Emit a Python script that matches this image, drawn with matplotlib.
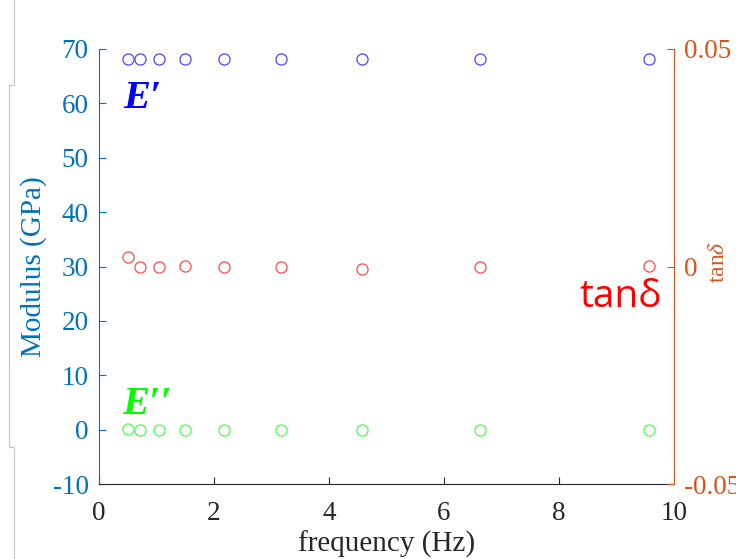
import matplotlib
matplotlib.use("Agg")
import matplotlib.pyplot as plt
from matplotlib.lines import Line2D

plt.rcParams['font.family'] = ['Liberation Serif', 'DejaVu Serif']
plt.rcParams['mathtext.fontset'] = 'stix'
plt.rcParams['axes.unicode_minus'] = False

# Dynamic mechanical analysis: frequency sweep
freq_hz = [0.50, 0.72, 1.04, 1.50, 2.18, 3.16, 4.57, 6.62, 9.56]
storage_modulus = [68.2, 68.2, 68.2, 68.2, 68.2, 68.2, 68.2, 68.2, 68.2]   # E' (GPa)
loss_modulus = [0.05, 0.02, 0.02, 0.02, 0.02, 0.02, 0.0, 0.02, 0.02]       # E'' (GPa)
tan_delta = [0.0022, 0.0000, 0.0000, 0.0002, 0.0000, 0.0000, -0.0005, 0.0000, 0.0001]

left_ticks = [-10, 0, 10, 20, 30, 40, 50, 60, 70]
right_ticks = [-0.05, 0, 0.05]
right_ticklabels = ['-0.05', '0', '0.05']
x_ticks = [0, 2, 4, 6, 8, 10]

LEFT_C = '#0072BD'
RIGHT_C = '#D95319'
AX_C = '#262626'

fig = plt.figure(figsize=(7.36, 5.59), dpi=100)
ax = fig.add_axes([99 / 736, 1 - 484 / 559, 575 / 736, 435 / 559])
ax2 = ax.twinx()

ms, mew = 8.0, 0.9
ax.plot(freq_hz, storage_modulus, 'o', mfc='none', mec='#4646ff', ms=ms, mew=mew, zorder=3)
ax.plot(freq_hz, loss_modulus, 'o', mfc='none', mec='#46ff46', ms=ms, mew=mew, zorder=3)
ax2.plot(freq_hz, tan_delta, 'o', mfc='none', mec='#ff4a4a', ms=ms, mew=mew, zorder=3)

ax.set_xlim(0, 10)
ax.set_ylim(-10, 70)
ax2.set_ylim(-0.05, 0.05)
ax.set_xticks(x_ticks)
ax.set_yticks(left_ticks)
ax2.set_yticks(right_ticks)
ax2.set_yticklabels(right_ticklabels)

for a in (ax, ax2):
    a.spines['top'].set_visible(False)
    a.set_facecolor('none')
ax.spines['right'].set_visible(False)
ax2.spines['left'].set_visible(False)
ax2.spines['bottom'].set_visible(False)
ax.spines['left'].set_color(LEFT_C)
ax.spines['bottom'].set_color(AX_C)
ax2.spines['right'].set_color(RIGHT_C)
for s in (ax.spines['left'], ax.spines['bottom'], ax2.spines['right']):
    s.set_linewidth(0.8)

ax.tick_params(axis='y', direction='in', length=5, width=0.8, colors=LEFT_C,
               labelsize=19.5, pad=7.5)
ax.tick_params(axis='x', direction='in', length=5, width=0.8, colors=AX_C,
               labelsize=19.5, pad=12)
ax2.tick_params(axis='y', direction='in', length=5, width=0.8, colors=RIGHT_C,
                labelsize=19.5, pad=7.5)

ax.set_xlabel('frequency (Hz)', fontsize=21, color=AX_C, labelpad=3.5)
ax.set_ylabel('Modulus (GPa)', fontsize=21, color=LEFT_C, labelpad=4)
ax2.set_ylabel(r'tan$\delta$', fontsize=17, color=RIGHT_C)
ax2.yaxis.set_label_coords(1.06, 0.51)

# Curve annotations
ax.text(0.42, 59.2, "E′", fontsize=29, fontweight='bold', fontstyle='italic',
        color='#0000ff', ha='left', va='baseline')
ax.text(0.40, 2.8, "E′′", fontsize=29, fontweight='bold', fontstyle='italic',
        color='#00ff00', ha='left', va='baseline')
ax.text(9.79, 22.5, "tanδ", fontsize=28, color='#ff0000', ha='right',
        va='baseline', family=['Open Sans', 'DejaVu Sans'])

# Light gray page bracket along the left edge
bx = [14 / 736, 14 / 736, 9 / 736, 9 / 736, 14 / 736, 14 / 736]
by = [1.0, 1 - 85 / 559, 1 - 85 / 559, 1 - 447 / 559, 1 - 447 / 559, 0.0]
fig.add_artist(Line2D(bx, by, transform=fig.transFigure, color='#c8c8c8', lw=0.9))

fig.savefig('out.png', dpi=100)
